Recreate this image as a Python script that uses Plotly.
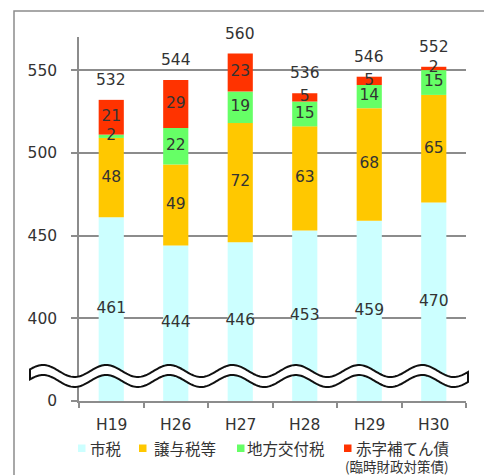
import numpy as np
import plotly.graph_objects as go

# ---------------- data ----------------
categories = ["H19", "H26", "H27", "H28", "H29", "H30"]
shizei = [461, 444, 446, 453, 459, 470]        # 市税
joyozei = [48, 49, 72, 63, 68, 65]             # 譲与税等
kofuzei = [2, 22, 19, 15, 14, 15]              # 地方交付税
akaji = [21, 29, 23, 5, 5, 2]                  # 赤字補てん債
series_names = ["市税", "譲与税等", "地方交付税", "赤字補てん債"]
series_values = [shizei, joyozei, kofuzei, akaji]
colors = ["#CCFFFF", "#FFC800", "#66FF66", "#FF3300"]
ytick_values = [0, 400, 450, 500, 550]

# broken axis: 0–400 is compressed into one 50-unit step
BREAK_AT = 400
BREAK_SPAN = 50


def disp(v):
    if v >= BREAK_AT:
        return v
    return BREAK_AT - BREAK_SPAN + v * BREAK_SPAN / BREAK_AT


# ---------------- layout geometry (pixels) ----------------
# the page body has an 8px margin, so the figure is 8px smaller
OFF = 8
W, H = 492 - OFF, 475 - OFF
PLOT_L, PLOT_R, PLOT_T, PLOT_B = 79, 466, 37, 401   # in screen pixels
ML, MR, MT, MB = PLOT_L - OFF, W - (PLOT_R - OFF), PLOT_T - OFF, H - (PLOT_B - OFF)
PW, PH = W - ML - MR, H - MT - MB


def px(x):
    return (x - PLOT_L) / PW


def py(y):
    return (PLOT_B - y) / PH


NUM_FONT = "DejaVu Sans, Noto Sans CJK JP, sans-serif"
JP_FONT = "Noto Sans CJK JP, sans-serif"
TXT = "#333333"
GRAY = "#8c8c8c"

fig = go.Figure()

n = len(categories)
cum = [0] * n
mid_pos = []
for name, vals, col in zip(series_names, series_values, colors):
    bottoms = cum[:]
    tops = [b + v for b, v in zip(bottoms, vals)]
    base = [disp(b) for b in bottoms]
    length = [disp(t) - disp(b) for b, t in zip(bottoms, tops)]
    fig.add_trace(go.Bar(
        x=categories, y=length, base=base, name=name,
        marker=dict(color=col, line=dict(width=0)),
        width=0.39, showlegend=False, hoverinfo="skip",
    ))
    mids = [(disp(b) + disp(t)) / 2 for b, t in zip(bottoms, tops)]
    mid_pos.append((mids, vals))
    cum = tops

for mids, vals in mid_pos:
    fig.add_trace(go.Scatter(
        x=categories, y=mids, mode="text",
        text=[str(v) for v in vals], textposition="middle center",
        textfont=dict(family=NUM_FONT, size=15.5, color=TXT),
        showlegend=False, hoverinfo="skip", cliponaxis=False,
    ))

totals = cum
annotations = []
for c, t in zip(categories, totals):
    annotations.append(dict(
        x=c, y=disp(t), xref="x", yref="y", text=str(t), showarrow=False,
        yanchor="middle", yshift=20,
        font=dict(family=NUM_FONT, size=15.5, color=TXT),
    ))

# category labels under the axis
for c in categories:
    annotations.append(dict(
        x=c, y=disp(0), xref="x", yref="y", text=c, showarrow=False,
        yanchor="middle", yshift=-24,
        font=dict(family=NUM_FONT, size=15.5, color=TXT),
    ))

# ---------------- legend (drawn manually) ----------------
shapes = []
legend_sq_x = [78, 139, 237, 344]
legend_txt_x = [88, 152, 245, 354]
LEG_Y = 448
for sx, tx, name, col in zip(legend_sq_x, legend_txt_x, series_names, colors):
    shapes.append(dict(type="rect", xref="paper", yref="paper",
                       x0=px(sx), x1=px(sx + 7.5), y0=py(LEG_Y + 4), y1=py(LEG_Y - 3.5),
                       fillcolor=col, line=dict(width=0)))
    annotations.append(dict(x=px(tx), y=py(LEG_Y), xref="paper", yref="paper",
                            text=name, showarrow=False, xanchor="left", yanchor="middle",
                            font=dict(family=JP_FONT, size=15.5, color=TXT)))
annotations.append(dict(x=px(397), y=py(466), xref="paper", yref="paper",
                        text="(臨時財政対策債)", showarrow=False,
                        xanchor="center", yanchor="middle",
                        font=dict(family=JP_FONT, size=13.5, color=TXT)))

# ---------------- wave marking the axis break ----------------
P = 63.2
xs = np.linspace(30, 468, 300)
top = 371 - 6 * np.cos(2 * np.pi * (xs - 43) / P)
bot = top + 10
pts = [(px(x), py(y)) for x, y in zip(xs, top)] + \
      [(px(x), py(y)) for x, y in zip(xs[::-1], bot[::-1])]
path = "M " + " L ".join(f"{a:.5f},{b:.5f}" for a, b in pts) + " Z"
shapes.append(dict(type="path", xref="paper", yref="paper", path=path,
                   fillcolor="white", line=dict(color="#111111", width=2), layer="above"))

# outer frame
shapes.append(dict(type="rect", xref="paper", yref="paper",
                   x0=px(14), x1=px(488), y0=py(480), y1=py(11),
                   line=dict(color=GRAY, width=1.5), fillcolor="rgba(0,0,0,0)", layer="below"))

fig.update_layout(
    width=W, height=H,
    margin=dict(l=ML, r=MR, t=MT, b=MB, pad=0),
    paper_bgcolor="white", plot_bgcolor="white",
    barmode="overlay", showlegend=False,
    shapes=shapes, annotations=annotations,
    xaxis=dict(
        type="category", showline=True, linecolor=GRAY, linewidth=1.5,
        ticks="outside", ticklen=5, tickcolor=GRAY, tickwidth=1.5,
        tickson="boundaries", showgrid=False, showticklabels=False,
    ),
    yaxis=dict(
        range=[disp(0), 570], tickmode="array",
        tickvals=[disp(v) for v in ytick_values],
        ticktext=[str(v) for v in ytick_values],
        showline=True, linecolor=GRAY, linewidth=1.5,
        ticks="outside", ticklen=6, tickcolor=GRAY, tickwidth=1.5,
        showgrid=True, gridcolor=GRAY, gridwidth=1.5, zeroline=False,
        ticklabelstandoff=11,
        tickfont=dict(family=NUM_FONT, size=15.5, color=TXT),
    ),
)

fig.write_html("out.html")
